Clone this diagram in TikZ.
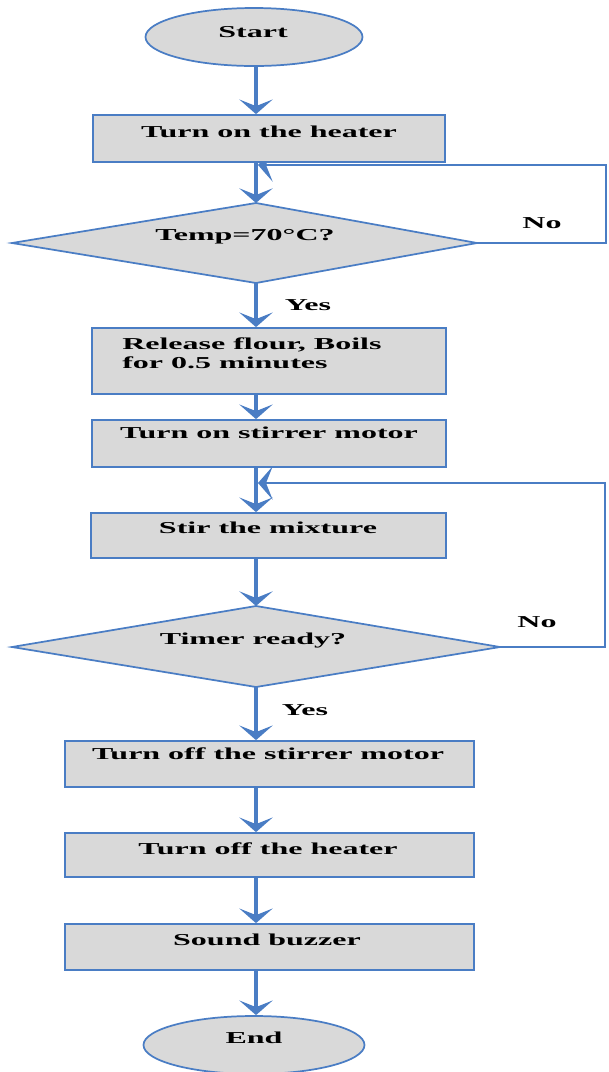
\documentclass[tikz,border=0pt]{standalone}
\usepackage{fontspec}
\setmainfont{Liberation Serif}
\usetikzlibrary{arrows.meta,shapes.geometric}
\definecolor{fc}{HTML}{4A7DC4}
\definecolor{fillg}{HTML}{D9D9D9}
\newcommand{\wtxt}[1]{\scalebox{1.92}[1]{#1}}
\tikzset{
  boxn/.style={draw=fc,line width=1.3pt,fill=fillg,rectangle,inner sep=0pt},
  ovaln/.style={draw=fc,line width=1.3pt,fill=fillg,ellipse,inner sep=0pt},
  dshape/.style={draw=fc,line width=1.3pt,fill=fillg},
  txt/.style={inner sep=0pt,font=\bfseries\fontsize{12.5}{14}\selectfont,text=black},
  arr/.style={draw=fc,line width=3pt,-{Stealth[length=11pt,width=25pt,inset=5pt]}},
  looparr/.style={draw=fc,line width=1.8pt,-{Stealth[length=11pt,width=25pt,inset=5pt]}}
}
\begin{document}
\begin{tikzpicture}[x=0.75pt,y=-0.75pt]
\useasboundingbox (0,0) rectangle (608,1072);
\coordinate (col) at (256,0);
\coordinate (d1t) at (256,203);
\coordinate (d1r) at (477,243);
\coordinate (d1b) at (256,283);
\coordinate (d1l) at (12,243);
\coordinate (l1a) at (606,243);
\coordinate (l1b) at (606,165);
\coordinate (l1c) at (258,165);
% loop drawn first so the box hides the upper half of its head
\draw[looparr] (d1r) -- (l1a) -- (l1b) -- (l1c);
% nodes
\node[ovaln,minimum width=162.75pt,minimum height=43.5pt] (start) at (254,37) {};
\node[boxn,minimum width=264pt,minimum height=35.25pt] (heater) at (269,138.5) {};
\draw[dshape] (d1t) -- (d1r) -- (d1b) -- (d1l) -- cycle;
\node[boxn,minimum width=265.5pt,minimum height=49.5pt] (release) at (269,361) {};
\node[boxn,minimum width=265.5pt,minimum height=35.25pt] (stiron) at (269,443.5) {};
\node[boxn,minimum width=266.25pt,minimum height=33.75pt] (stir) at (268.5,535.5) {};
\coordinate (d2t) at (256,606);
\coordinate (d2r) at (500,647);
\coordinate (d2b) at (256,687);
\coordinate (d2l) at (12,647);
\draw[dshape] (d2t) -- (d2r) -- (d2b) -- (d2l) -- cycle;
\node[boxn,minimum width=306.75pt,minimum height=34.5pt] (offmotor) at (269.5,764) {};
\node[boxn,minimum width=306.75pt,minimum height=33pt] (offheater) at (269.5,855) {};
\node[boxn,minimum width=306.75pt,minimum height=34.5pt] (buzzer) at (269.5,947) {};
\node[ovaln,minimum width=165.75pt,minimum height=43.5pt] (end) at (254,1045) {};
% texts
\node[txt,anchor=base] (tstart) at (253,37) {\wtxt{Start}};
\node[txt,anchor=base] (theater) at (269,137) {\wtxt{Turn on the heater}};
\node[txt,anchor=base] (ttemp) at (245,240) {\wtxt{Temp=70°C?}};
\node[txt,anchor=base] (tno1) at (542,228) {\wtxt{No}};
\node[txt,anchor=base] (tyes1) at (308,310) {\wtxt{Yes}};
\node[txt,anchor=base west] (trelease) at (122,368) {\wtxt{\begin{tabular}[b]{@{}l@{}}Release flour, Boils\\for 0.5 minutes\end{tabular}}};
\node[txt,anchor=base] (tstiron) at (269,438) {\wtxt{Turn on stirrer motor}};
\node[txt,anchor=base] (tstir) at (268,533) {\wtxt{Stir the mixture}};
\node[txt,anchor=base] (ttimer) at (253,644) {\wtxt{Timer ready?}};
\node[txt,anchor=base] (tno2) at (537,627) {\wtxt{No}};
\node[txt,anchor=base] (tyes2) at (305,715) {\wtxt{Yes}};
\node[txt,anchor=base] (toffmotor) at (268,759) {\wtxt{Turn off the stirrer motor}};
\node[txt,anchor=base] (toffheater) at (268,854) {\wtxt{Turn off the heater}};
\node[txt,anchor=base] (tbuzzer) at (267,945) {\wtxt{Sound buzzer}};
\node[txt,anchor=base] (tend) at (254,1043) {\wtxt{End}};
% connectors
\draw[arr] (start.south -| col) -- (heater.north -| col);
\draw[arr] (heater.south -| col) -- (d1t);
\draw[arr] (d1b) -- (release.north -| col);
\draw[arr] (release.south -| col) -- (stiron.north -| col);
\draw[arr] (stiron.south -| col) -- (stir.north -| col);
\draw[arr] (stir.south -| col) -- (d2t);
\coordinate (l2a) at (605,647);
\coordinate (l2b) at (605,483);
\coordinate (l2c) at (258,483);
\draw[looparr] (d2r) -- (l2a) -- (l2b) -- (l2c);
\draw[arr] (d2b) -- (offmotor.north -| col);
\draw[arr] (offmotor.south -| col) -- (offheater.north -| col);
\draw[arr] (offheater.south -| col) -- (buzzer.north -| col);
\draw[arr] (buzzer.south -| col) -- (end.north -| col);
\end{tikzpicture}
\end{document}
